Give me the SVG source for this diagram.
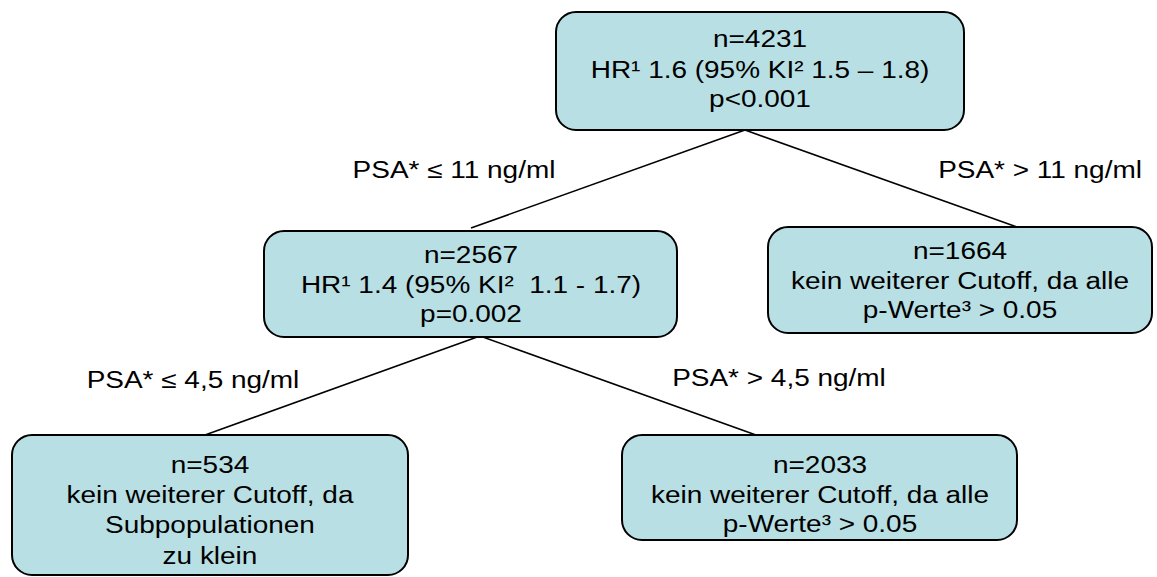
<svg xmlns="http://www.w3.org/2000/svg" width="1157" height="577" viewBox="0 0 1157 577">
<style>
.box{fill:#b8dfe3;stroke:#000;stroke-width:2}
.t{font-family:"Liberation Sans",Arial,sans-serif;font-size:23.5px;fill:#000;text-anchor:middle}
.c{stroke:#000;stroke-width:1.6;fill:none}
</style>
<rect width="1157" height="577" fill="#fff"/>
<g id="connectors">
<line class="c" x1="745" y1="130" x2="471" y2="228"/>
<line class="c" x1="745" y1="130" x2="1017" y2="227"/>
<line class="c" x1="480" y1="336" x2="205" y2="435"/>
<line class="c" x1="480" y1="336" x2="756" y2="435"/>
</g>
<g id="labels">
<text class="t" transform="translate(454,178) scale(1.19,1)">PSA* ≤ 11 ng/ml</text>
<text class="t" transform="translate(1040,178) scale(1.19,1)">PSA* &gt; 11 ng/ml</text>
<text class="t" transform="translate(193,388) scale(1.19,1)">PSA* ≤ 4,5 ng/ml</text>
<text class="t" transform="translate(779,386) scale(1.19,1)">PSA* &gt; 4,5 ng/ml</text>
</g>
<g id="node-root">
<rect class="box" x="556" y="12" width="408" height="118" rx="20"/>
<text class="t" transform="translate(760,47) scale(1.19,1)">n=4231</text>
<text class="t" transform="translate(760,78) scale(1.19,1)">HR¹ 1.6 (95% KI² 1.5 – 1.8)</text>
<text class="t" transform="translate(760,107) scale(1.19,1)">p&lt;0.001</text>
</g>
<g id="node-low">
<rect class="box" x="264" y="231" width="413" height="106" rx="20"/>
<text class="t" transform="translate(471,263) scale(1.19,1)">n=2567</text>
<text class="t" transform="translate(471,293) scale(1.19,1)">HR¹ 1.4 (95% KI²&#160; 1.1 - 1.7)</text>
<text class="t" transform="translate(471,322) scale(1.19,1)">p=0.002</text>
</g>
<g id="node-high">
<rect class="box" x="768" y="227" width="384" height="106" rx="20"/>
<text class="t" transform="translate(960,259) scale(1.19,1)">n=1664</text>
<text class="t" transform="translate(960,289) scale(1.19,1)">kein weiterer Cutoff, da alle</text>
<text class="t" transform="translate(960,318) scale(1.19,1)">p-Werte³ &gt; 0.05</text>
</g>
<g id="node-534">
<rect class="box" x="12" y="435" width="396" height="140" rx="20"/>
<text class="t" transform="translate(210,473) scale(1.19,1)">n=534</text>
<text class="t" transform="translate(210,503) scale(1.19,1)">kein weiterer Cutoff, da</text>
<text class="t" transform="translate(210,533) scale(1.19,1)">Subpopulationen</text>
<text class="t" transform="translate(210,564) scale(1.19,1)">zu klein</text>
</g>
<g id="node-2033">
<rect class="box" x="622" y="435" width="395" height="105" rx="20"/>
<text class="t" transform="translate(820,473) scale(1.19,1)">n=2033</text>
<text class="t" transform="translate(820,503) scale(1.19,1)">kein weiterer Cutoff, da alle</text>
<text class="t" transform="translate(820,532) scale(1.19,1)">p-Werte³ &gt; 0.05</text>
</g>
</svg>
